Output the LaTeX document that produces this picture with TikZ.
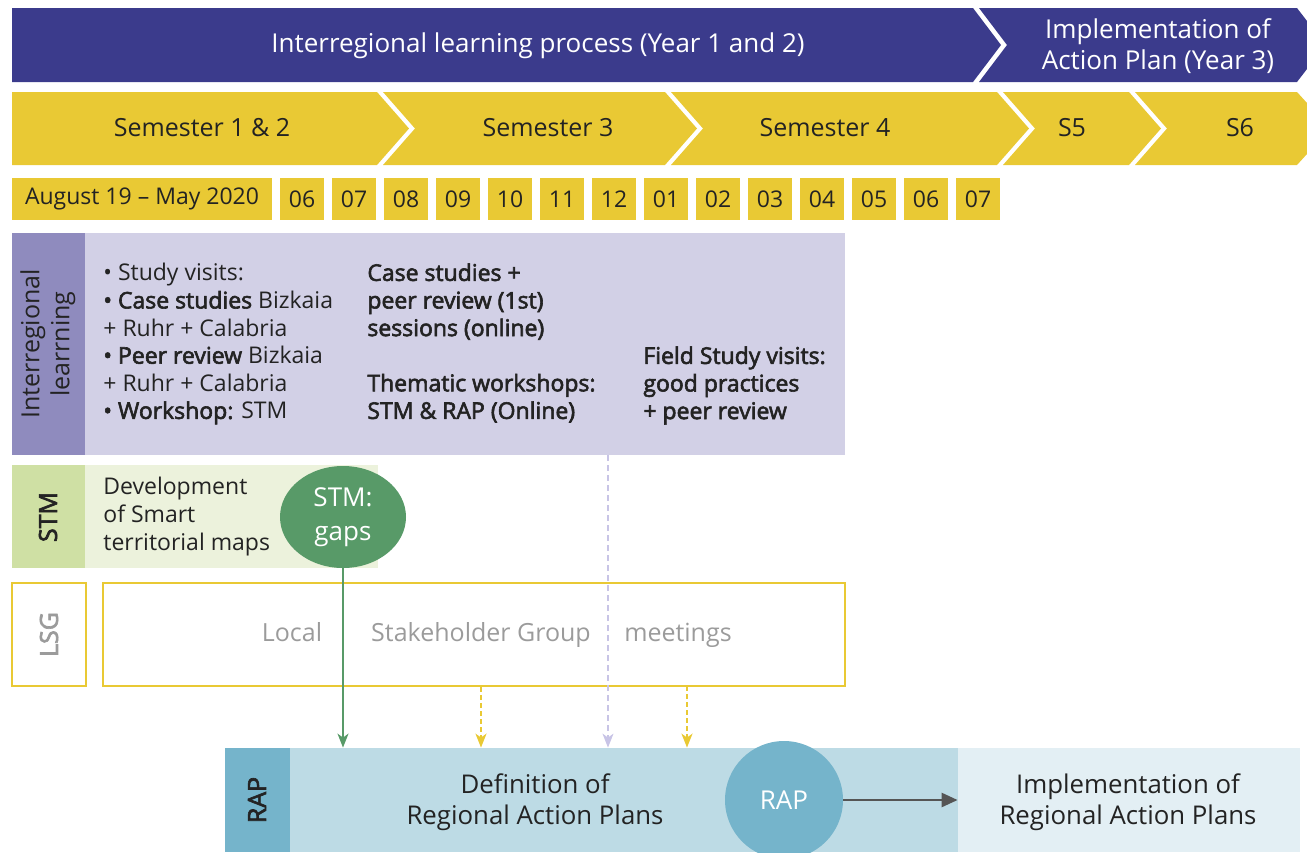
\documentclass[tikz,border=0pt]{standalone}
\usepackage{fontspec}
\setmainfont{Open Sans}[BoldFont={Open Sans}, BoldFeatures={FakeBold=2.6}]
\usetikzlibrary{arrows.meta,shapes.geometric}

\definecolor{navy}{RGB}{59,59,140}
\definecolor{gold}{RGB}{233,201,52}
\definecolor{ink}{RGB}{35,35,35}
\definecolor{ilhead}{RGB}{143,139,190}
\definecolor{ilbody}{RGB}{210,208,230}
\definecolor{stmhead}{RGB}{207,224,164}
\definecolor{stmbody}{RGB}{236,242,220}
\definecolor{stmgreen}{RGB}{88,154,104}
\definecolor{lsggray}{RGB}{155,155,155}
\definecolor{raphead}{RGB}{117,180,203}
\definecolor{rapbody}{RGB}{189,219,229}
\definecolor{impbody}{RGB}{227,239,244}
\definecolor{lilac}{RGB}{200,196,230}
\definecolor{arrowgray}{RGB}{85,85,85}

\begin{document}
\begin{tikzpicture}[x=0.5pt,y=-0.5pt,
    every node/.style={inner sep=0pt},
    bartext/.style={text=white, align=center, font=\fontsize{13}{15.5}\selectfont},
    semtext/.style={text=ink, font=\fontsize{12.5}{15.5}\selectfont},
    month/.style={fill=gold, minimum width=22pt, minimum height=21pt, text=ink, font=\fontsize{11.5}{14}\selectfont},
    lanetitle/.style={rotate=90, align=center, text=ink, font=\fontsize{12.5}{15}\selectfont},
    body/.style={anchor=north west, align=left, text=ink, font=\fontsize{11.5}{13.8}\selectfont},
    boldbody/.style={body, font=\fontsize{11.5}{13.8}\selectfont\bfseries},
    lsgtext/.style={anchor=base, text=lsggray, font=\fontsize{12.5}{15}\selectfont},
    plantext/.style={text=ink, align=center, font=\fontsize{12.9}{15.5}\selectfont},
    bubble/.style={ellipse, text=white, align=center, font=\fontsize{13}{17}\selectfont},
    feed/.style={-{Stealth[length=7pt,width=5.5pt,inset=2pt]}}]

\useasboundingbox (0,0) rectangle (1307,852);
\clip (0,0) rectangle (1307,852);

% years
\fill[navy] (12,8) -- (973,8) -- (1001,45) -- (973,82) -- (12,82) -- cycle;
\fill[navy] (979,8) -- (1297,8) -- (1307,21) -- (1307,69) -- (1297,82) -- (979,82) -- (1007,45) -- cycle;
\node[bartext] (years12) at (538,46) {Interregional learning process (Year 1 and 2)};
\node[bartext] (year3) at (1158,46) {Implementation of\\Action Plan (Year 3)};

% semesters
\fill[gold] (12,92) -- (377,92) -- (409,128.5) -- (377,165) -- (12,165) -- cycle;
\fill[gold] (383,92) -- (665,92) -- (697,128.5) -- (665,165) -- (383,165) -- (415,128.5) -- cycle;
\fill[gold] (671,92) -- (997,92) -- (1029,128.5) -- (997,165) -- (671,165) -- (703,128.5) -- cycle;
\fill[gold] (1003,92) -- (1129,92) -- (1161,128.5) -- (1129,165) -- (1003,165) -- (1035,128.5) -- cycle;
\fill[gold] (1135,92) -- (1297,92) -- (1307,103) -- (1307,154) -- (1297,165) -- (1135,165) -- (1167,128.5) -- cycle;
\node[semtext] (sem12) at (202,128) {Semester 1 \& 2};
\node[semtext] (sem3) at (548,128) {Semester 3};
\node[semtext] (sem4) at (825,128) {Semester 4};
\node[semtext] (sem5) at (1072,128) {S5};
\node[semtext] (sem6) at (1240,128) {S6};

% months
\node[month, minimum width=130pt] (aug) at (142,199) {August 19 -- May 2020};
\foreach \m [count=\i] in {06,07,08,09,10,11,12,01,02,03,04,05,06,07}
  \node[month] (m\i) at ({302+52*(\i-1)},199) {\m};

% interregional learning
\fill[ilhead] (12,233) rectangle (85,455);
\fill[ilbody] (85,233) rectangle (845,455);
\node[lanetitle] (iltitle) at (48,344) {Interregional\\learrning};
\node[body] (ilvisits) at (103,263) {• Study visits:\\\textbf{• Case studies} Bizkaia\\+ Ruhr + Calabria\\\textbf{• Peer review} Bizkaia\\+ Ruhr + Calabria\\\textbf{• Workshop:} STM};
\node[boldbody] (ilonline) at (367,263) {Case studies +\\peer review (1st)\\sessions (online)\\[13.8pt]Thematic workshops:\\STM \& RAP (Online)};
\node[boldbody] (ilfield) at (643,346) {Field Study visits:\\good practices\\+ peer review};

% smart territorial maps
\fill[stmhead] (12,465) rectangle (85,568);
\fill[stmbody] (85,465) rectangle (378,568);
\node[lanetitle, font=\fontsize{12.5}{15}\selectfont\bfseries] (stmtitle) at (48,517) {STM};
\node[body] (stmdev) at (103,477) {Development\\of Smart\\territorial maps};
\node[bubble, fill=stmgreen, minimum width=63pt, minimum height=51pt] (gaps) at (343,517) {STM:\\gaps};

% local stakeholder group
\node[lanetitle, draw=gold, line width=1pt, minimum width=51.5pt, minimum height=37pt, text=lsggray, font=\fontsize{12.5}{15}\selectfont\bfseries] (lsgtitle) at (49,634.5) {LSG};
\node[draw=gold, line width=1pt, minimum width=371pt, minimum height=51.5pt] (lsg) at (474,634.5) {};
\node[lsgtext] (local) at (292,641) {Local};
\node[lsgtext] (stake) at (481,641) {Stakeholder Group};
\node[lsgtext] (meet) at (678,641) {meetings};

% regional action plans
\fill[raphead] (225,748) rectangle (290,852);
\node[lanetitle, font=\fontsize{12.5}{15}\selectfont\bfseries] (raptitle) at (257,800) {RAP};
\node[fill=rapbody, minimum width=334pt, minimum height=52pt] (rapdef) at (624,800) {};
\node[fill=impbody, minimum width=171pt, minimum height=52pt] (rapimp) at (1129,800) {};
\node[plantext] (deftext) at (535,802) {Definition of\\Regional Action Plans};
\node[plantext] (imptext) at (1128,802) {Implementation of\\Regional Action Plans};
\node[circle, fill=raphead, minimum size=59pt, text=white, font=\fontsize{13}{15}\selectfont] (rapdot) at (784,800) {RAP};
\draw[arrowgray, line width=1.3pt, -{Triangle[length=8pt,width=7pt]}] (rapdot) -- (rapimp.west);

% inputs to the action plans
\coordinate (ilfoot) at (608,455);
\coordinate (lsgfoot) at (687,686);
\draw[feed, stmgreen, line width=0.75pt] (gaps.south) -- (gaps.south |- rapdef.north);
\draw[feed, gold, line width=1pt, dash pattern=on 2.5pt off 1.5pt] (stake |- lsg.south) -- (stake |- rapdef.north);
\draw[feed, gold, line width=1pt, dash pattern=on 2.5pt off 1.5pt] (lsgfoot) -- (lsgfoot |- rapdef.north);
\draw[feed, lilac, line width=0.6pt, dash pattern=on 3pt off 2pt] (ilfoot) -- (ilfoot |- rapdef.north);

\end{tikzpicture}
\end{document}
